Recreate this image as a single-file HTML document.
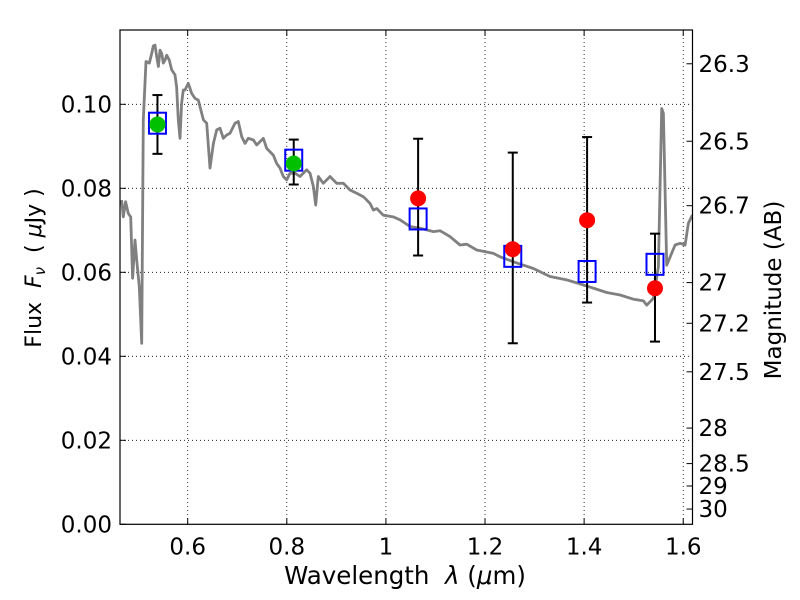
<!DOCTYPE html>
<html><head><meta charset="utf-8"><style>
body{margin:0;background:#fff;}
svg{display:block;font-family:"DejaVu Sans","Liberation Sans",sans-serif;}
.ttl{white-space:pre;}
</style></head><body>
<svg id="chart" width="800" height="600" xmlns="http://www.w3.org/2000/svg">
<rect width="800" height="600" fill="#fff"/>
<defs><clipPath id="clip"><rect x="120" y="30" width="572.5" height="494.3"/></clipPath></defs>
<g id="grid"></g>
<g id="spec" clip-path="url(#clip)"></g>
<g id="marks"></g>
<rect x="120" y="30" width="572.5" height="494.3" fill="none" stroke="#000" stroke-width="1.2"/>
<g id="ticks"></g>
<text class="ttl" x="405" y="584" font-size="24.5" text-anchor="middle">Wavelength  <tspan font-style="italic">λ</tspan> (<tspan font-style="italic">μ</tspan>m)</text>
<text class="ttl" transform="translate(41,268) rotate(-90)" font-size="22" text-anchor="middle">Flux  <tspan font-style="italic">F<tspan font-size="15" dy="4">ν</tspan></tspan><tspan dy="-4">  ( </tspan><tspan font-style="italic">μ</tspan>Jy )</text>
<text class="ttl" transform="translate(781,290) rotate(-90)" font-size="23" text-anchor="middle">Magnitude (AB)</text>
</svg>
<script>
const specLam=[0.4667,0.4701,0.4748,0.4802,0.4849,0.4889,0.4937,0.4970,0.5024,0.5071,0.5105,0.5159,0.5226,0.5273,0.5307,0.5340,0.5374,0.5408,0.5441,0.5475,0.5508,0.5542,0.5576,0.5629,0.5677,0.5744,0.5777,0.5811,0.5845,0.5878,0.5912,0.5946,0.6013,0.6080,0.6147,0.6215,0.6316,0.6383,0.6450,0.6518,0.6585,0.6652,0.6719,0.6787,0.6854,0.6955,0.7022,0.7089,0.7157,0.7224,0.7325,0.7392,0.7526,0.7594,0.7728,0.7796,0.7863,0.7930,0.7997,0.8065,0.8166,0.8266,0.8401,0.8468,0.8536,0.8583,0.8636,0.8737,0.8872,0.9006,0.9141,0.9276,0.9410,0.9545,0.9679,0.9747,0.9814,0.9948,1.0150,1.0285,1.0487,1.0689,1.0958,1.1092,1.1294,1.1496,1.1630,1.1832,1.2169,1.2303,1.2572,1.2976,1.3312,1.3649,1.3985,1.4456,1.4725,1.4994,1.5196,1.5263,1.5398,1.5499,1.5566,1.5600,1.5667,1.5835,1.5936,1.6037,1.6104,1.6171,1.63];
const specFlux=[0.0772,0.0732,0.0768,0.0740,0.0732,0.0586,0.0677,0.0629,0.0566,0.0431,0.0963,0.1102,0.1098,0.1121,0.1139,0.1141,0.1113,0.1090,0.1129,0.1121,0.1098,0.1105,0.1117,0.1105,0.1082,0.1070,0.1042,0.0963,0.0919,0.1002,0.1034,0.1034,0.1050,0.1026,0.1014,0.1010,0.0963,0.0955,0.0848,0.0907,0.0939,0.0943,0.0919,0.0927,0.0931,0.0955,0.0959,0.0923,0.0907,0.0919,0.0915,0.0903,0.0919,0.0895,0.0879,0.0859,0.0848,0.0828,0.0820,0.0836,0.0836,0.0828,0.0844,0.0836,0.0804,0.0760,0.0828,0.0812,0.0828,0.0812,0.0812,0.0796,0.0788,0.0780,0.0764,0.0748,0.0752,0.0736,0.0732,0.0725,0.0709,0.0705,0.0697,0.0699,0.0685,0.0665,0.0667,0.0653,0.0645,0.0637,0.0625,0.0609,0.0590,0.0582,0.0570,0.0552,0.0546,0.0536,0.0532,0.0522,0.0538,0.0613,0.0990,0.0978,0.0617,0.0665,0.0669,0.0665,0.0717,0.0733,0.0750];
const greenLam=[0.539,0.814];
const greenFlux=[0.0952,0.0859];
const greenErrHi=[0.1022,0.0916];
const greenErrLo=[0.0882,0.0809];
const greenModel=[0.0955,0.0867];
const redLam=[1.065,1.256,1.406,1.543];
const redFlux=[0.0776,0.0655,0.0724,0.0562];
const redErrHi=[0.0918,0.0885,0.0922,0.0692];
const redErrLo=[0.0640,0.0431,0.0528,0.0435];
const redModel=[0.0727,0.0638,0.0602,0.0619];
const xTicks=[0.6,0.8,1.0,1.2,1.4,1.6];
const xTickLabels=["0.6","0.8","1","1.2","1.4","1.6"];
const yTicks=[0,0.02,0.04,0.06,0.08,0.10];
const yTickLabels=["0.00","0.02","0.04","0.06","0.08","0.10"];
const magTicks=[26.3,26.5,26.7,27,27.2,27.5,28,28.5,29,30];
const magTickLabels=["26.3","26.5","26.7","27","27.2","27.5","28","28.5","29","30"];

const X0=120,X1=692.5,Y0=524.3,Y1=30,xmin=0.4634,xmax=1.6187,ymin=0,ymax=0.11769;
const sx=v=>X0+(v-xmin)/(xmax-xmin)*(X1-X0);
const sy=v=>Y0-(v-ymin)/(ymax-ymin)*(Y0-Y1);
const magToFlux=m=>Math.pow(10,(23.9-m)/2.5);
const NS="http://www.w3.org/2000/svg";
function mk(tag,attrs,parent){const e=document.createElementNS(NS,tag);for(const k in attrs)e.setAttribute(k,attrs[k]);parent.appendChild(e);return e;}
const grid=document.getElementById('grid'),ticks=document.getElementById('ticks'),spec=document.getElementById('spec'),marks=document.getElementById('marks');

xTicks.forEach((t,i)=>{const x=sx(t);
 let g=mk('line',{x1:x,x2:x,y1:Y1,y2:Y0,stroke:'#000','stroke-width':0.8,'stroke-dasharray':'1,3'},grid);
 
 
 mk('line',{x1:x,x2:x,y1:Y0,y2:Y0-6,stroke:'#000'},ticks);
 mk('line',{x1:x,x2:x,y1:Y1,y2:Y1+6,stroke:'#000'},ticks);
 let l=mk('text',{x:x,y:Y0+30,'font-size':23,'text-anchor':'middle'},ticks);l.textContent=xTickLabels[i];
 
 
});
yTicks.forEach((t,i)=>{const y=sy(t);
 if(t>0){let g=mk('line',{x1:X0,x2:X1,y1:y,y2:y,stroke:'#000','stroke-width':0.8,'stroke-dasharray':'1,3'},grid);
 
 }
 mk('line',{x1:X0,x2:X0+6,y1:y,y2:y,stroke:'#000'},ticks);
 let l=mk('text',{x:X0-8,y:y+8,'font-size':23,'text-anchor':'end'},ticks);l.textContent=yTickLabels[i];
 
 
});
magTicks.forEach((m,i)=>{const y=sy(magToFlux(m));
 mk('line',{x1:X1,x2:X1-6,y1:y,y2:y,stroke:'#000'},ticks);
 let l=mk('text',{x:X1+6,y:y+8,'font-size':23},ticks);l.textContent=magTickLabels[i];
 
 
});
let d=specLam.map((l,i)=>(i?'L':'M')+sx(l).toFixed(1)+','+sy(specFlux[i]).toFixed(1)).join(' ');
let p=mk('path',{d:d,fill:'none',stroke:'#808080','stroke-width':2.8,'stroke-linejoin':'round'},spec);



function drawSet(lam,flux,hi,lo,model,color,name){
 lam.forEach((l,i)=>{const x=sx(l);
  const e=mk('g',{},marks);
  
  
  mk('line',{x1:x,x2:x,y1:sy(hi[i]),y2:sy(lo[i]),stroke:'#000','stroke-width':2},e);
  mk('line',{x1:x-5,x2:x+5,y1:sy(hi[i]),y2:sy(hi[i]),stroke:'#000','stroke-width':2},e);
  mk('line',{x1:x-5,x2:x+5,y1:sy(lo[i]),y2:sy(lo[i]),stroke:'#000','stroke-width':2},e);
 });
 lam.forEach((l,i)=>{const x=sx(l),y=sy(model[i]);
  const s=mk('rect',{x:x-8.5,y:y-10.5,width:17,height:21,fill:'none',stroke:'#0000ff','stroke-width':2},marks);
  
  
 });
 lam.forEach((l,i)=>{
  const c=mk('circle',{cx:sx(l),cy:sy(flux[i]),r:8,fill:color},marks);
  
  
 });
}
drawSet(greenLam,greenFlux,greenErrHi,greenErrLo,greenModel,'#00c000','hst-flux');
drawSet(redLam,redFlux,redErrHi,redErrLo,redModel,'#ff0000','ir-flux');
</script>
</body></html>
